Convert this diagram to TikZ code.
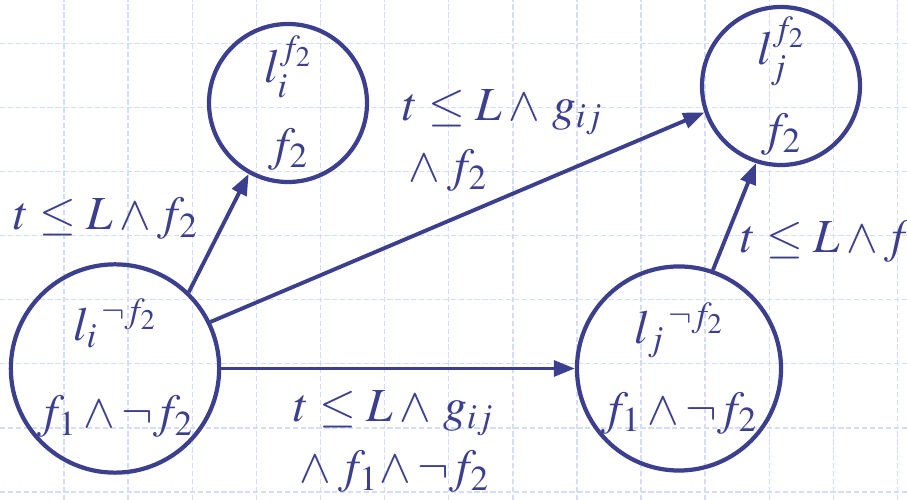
\documentclass[tikz,border=0pt]{standalone}
\usepackage{mathptmx}
\usepackage{tikz}
\usetikzlibrary{arrows.meta,positioning}
\definecolor{slidenavy}{RGB}{59,63,142}
\definecolor{gridblue}{RGB}{212,221,248}

\begin{document}
\begin{tikzpicture}[
    >={Triangle[length=12pt,width=9pt]},
    every node/.append style={font=\fontsize{27}{35}\selectfont},
    state/.style={circle,draw=slidenavy,text=slidenavy,line width=2.4pt,align=center,inner sep=0pt},
    bigstate/.style={state,minimum size=4.06cm},
    smallstate/.style={state,minimum size=3.16cm},
    guard/.style={text=slidenavy,inner sep=0pt,anchor=base west,align=left},
    trans/.style={->,line width=2.2pt,slidenavy},
    gridline/.style={gridblue,line width=0.8pt,dash pattern=on 3pt off 1.5pt}
]
    \useasboundingbox (0,0) rectangle (18.14,10);
    \clip (0,0) rectangle (18.14,10);

    % slide grid
    \foreach \gx in {1,...,14}
        \draw[gridline] (1.282*\gx,0) -- (1.282*\gx,10);
    \foreach \gy in {0,...,7}
        \draw[gridline] (0,9.134-1.282*\gy) -- (18.14,9.134-1.282*\gy);

    % locations
    \node[bigstate] (li) at (2.30,2.63) {$l_i{}^{\,\neg f_2}$\\[15pt]$f_1\wedge\neg f_2$};
    \node[smallstate] (lif) at (5.76,7.94) {$l_i^{f_2}$\\[9pt]$f_2$};
    \node[smallstate] (ljf) at (15.62,8.28) {$l_j^{f_2}$\\[11pt]$f_2$};
    \node[bigstate] (lj) at (13.58,2.63) {$l_j{}^{\,\neg f_2}$\\[11pt]$f_1\wedge\neg f_2$};

    % transitions
    \draw[trans] (li.46) -- (lif.241);
    \draw[trans] (li.26) -- (ljf.199);
    \draw[trans] (li) -- (lj);
    \draw[trans] (lj.71) -- (ljf.252);

    % guards (base = last line)
    \node[guard] (gl) at (0.26,5.40) {$t\le L\wedge f_2$};
    \node[guard] (gt) at (8.04,6.36) {$t\le L\wedge\, g_{ij}$\\${}\wedge f_2$};
    \node[guard] (gb) at (5.86,0.34) {$t\le L\wedge\, g_{ij}$\\${}\wedge f_1\!\wedge\neg f_2$};
    \node[guard] (gr) at (14.80,4.94) {$t\le L\wedge f_2$};
\end{tikzpicture}
\end{document}
